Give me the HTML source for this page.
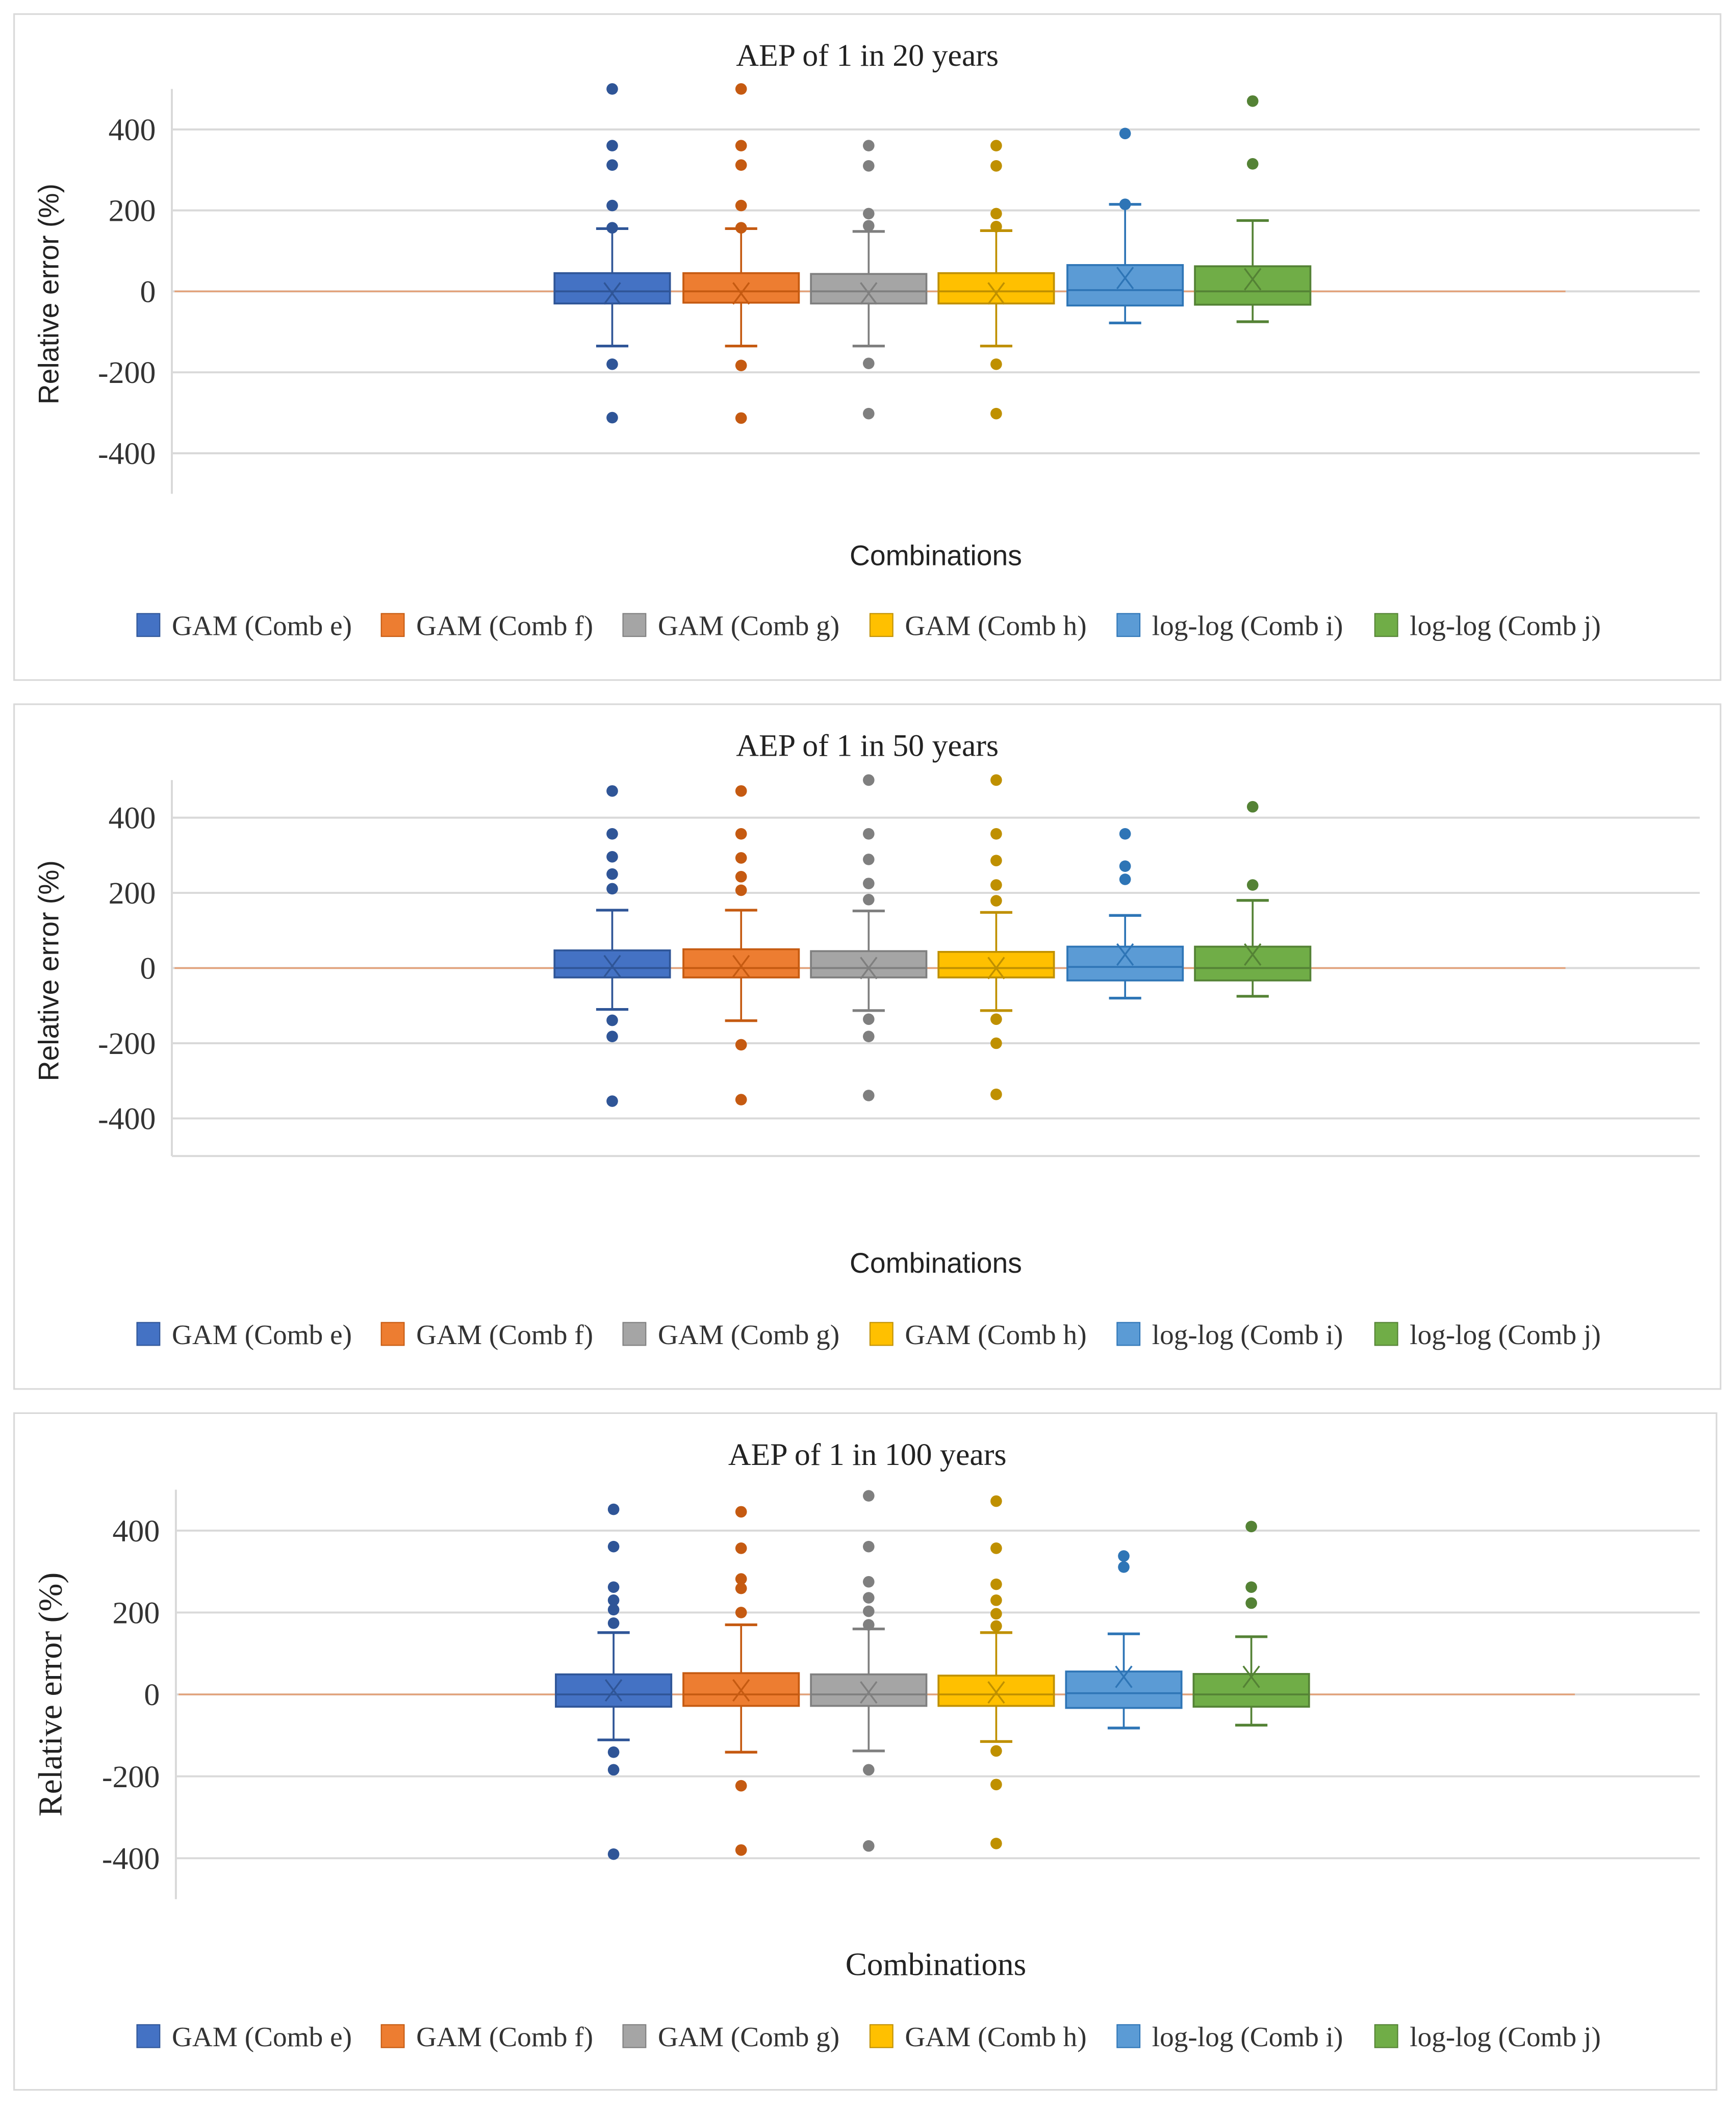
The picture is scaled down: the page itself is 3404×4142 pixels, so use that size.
<!DOCTYPE html>
<html><head><meta charset="utf-8"><style>
html,body{margin:0;padding:0;background:#fff;}
svg{display:block;}
</style></head><body>
<svg id="root" width="3404" height="4142" viewBox="0 0 1293 1573" preserveAspectRatio="none" xmlns="http://www.w3.org/2000/svg"></svg>
<script>
const categories = ["GAM (Comb e)","GAM (Comb f)","GAM (Comb g)","GAM (Comb h)","log-log (Comb i)","log-log (Comb j)"];
const fills = ["#4472C4","#ED7D31","#A5A5A5","#FFC000","#5B9BD5","#70AD47"];
const strokes = ["#2F5597","#C55A11","#7F7F7F","#BF9000","#2E75B6","#548235"];
const titles = ["AEP of 1 in 20 years","AEP of 1 in 50 years","AEP of 1 in 100 years"];
const yTicks = [400,200,0,-200,-400];
// per chart: [whiskerLow, Q1, median, Q3, whiskerHigh, mean]
const stats20 = [[-135,-30,0,45,155,-5],[-135,-28,0,45,155,-5],[-135,-30,0,43,148,-5],[-135,-30,0,45,150,-5],[-78,-35,3,65,215,33],[-75,-33,0,62,175,30]];
const stats50 = [[-110,-25,0,47,154,5],[-140,-25,0,50,154,5],[-113,-25,0,45,152,0],[-113,-25,0,43,148,0],[-80,-33,3,57,140,36],[-75,-33,0,57,180,36]];
const stats100 = [[-111,-30,0,49,151,10],[-141,-28,0,52,170,10],[-138,-28,0,49,160,5],[-115,-28,0,46,151,5],[-82,-33,3,56,148,43],[-75,-30,0,50,141,43]];
const outliers20 = [[500,360,312,212,157,-180,-312],[500,360,312,212,157,-183,-313],[360,310,192,162,-178,-302],[360,310,192,160,-180,-302],[390,215],[470,315]];
const outliers50 = [[471,357,296,250,211,-139,-182,-354],[471,357,293,243,207,-204,-350],[500,357,289,225,182,-136,-182,-339],[500,357,286,221,179,-136,-200,-336],[357,271,236],[429,221]];
const outliers100 = [[452,361,262,230,207,174,-141,-184,-390],[446,357,282,259,200,-223,-380],[485,361,275,236,203,170,-184,-370],[472,357,269,230,197,167,-138,-220,-364],[338,311],[410,262,223]];

const NS="http://www.w3.org/2000/svg";
const root=document.getElementById('root');
function mk(tag,attrs,parent){const e=document.createElementNS(NS,tag);for(const k in attrs)e.setAttribute(k,attrs[k]);(parent||root).appendChild(e);return e;}

const layouts=[
 {top:10,bot:506,right:1281,zero:217,axisX:128,titleY:49,combY:421,legY:466,ylabSerif:false,stats:stats20,out:outliers20,centers:[456,552,647,742,838,933],zeroEnd:1166},
 {top:524,bot:1034,right:1281,zero:721,axisX:128,titleY:563,combY:948,legY:994,ylabSerif:false,stats:stats50,out:outliers50,centers:[456,552,647,742,838,933],zeroEnd:1166,xline:true},
 {top:1052,bot:1556,right:1278,zero:1262,axisX:131,titleY:1091,combY:1471,legY:1517,ylabSerif:true,stats:stats100,out:outliers100,centers:[457,552,647,742,837,932],zeroEnd:1173}
];
const pxPer=[0.3015,0.28,0.305];

layouts.forEach((L,ci)=>{
 const g=mk('g',{});
 
 
 const yS=v=>L.zero-v*pxPer[ci];
 const panel=mk('rect',{x:10.5,y:L.top+.5,width:L.right-10,height:L.bot-L.top,fill:'#fff',stroke:'#d9d9d9','stroke-width':1.2},g);
 
 
 const t=mk('text',{x:646,y:L.titleY,'text-anchor':'middle','font-family':'Liberation Serif, serif','font-size':23.5,fill:'#222'},g);
 t.textContent=titles[ci];
 
 
 yTicks.forEach(v=>{
  const gl=mk('line',{x1:L.axisX,x2:1266,y1:yS(v),y2:yS(v),stroke:'#d9d9d9','stroke-width':1.5},g);
  
  
  const tl=mk('text',{x:L.axisX-12,y:yS(v)+8,'text-anchor':'end','font-family':'Liberation Serif, serif','font-size':23.5,fill:'#333'},g);
  tl.textContent=v;
  
  
 });
 const ax=mk('line',{x1:L.axisX,x2:L.axisX,y1:yS(500),y2:yS(-500),stroke:'#d9d9d9','stroke-width':1.5},g);
 
 
 if(L.xline){const xl=mk('line',{x1:L.axisX,x2:1266,y1:yS(-500),y2:yS(-500),stroke:'#d9d9d9','stroke-width':1.5},g);
  
  }
 const ylx=ci==2?40:38, yly=yS(0)+ (ci==2?0:2);
 const yl=mk('text',{x:ylx,y:yly,transform:`rotate(-90 ${ylx} ${yly})`,'text-anchor':'middle','font-family':L.ylabSerif?'Liberation Serif, serif':'Liberation Sans, sans-serif','font-size':L.ylabSerif?25:21,fill:'#222','dominant-baseline':'middle'},g);
 yl.textContent=L.ylabSerif?'Relative error  (%)':'Relative error (%)';
 
 
 const zl=mk('line',{x1:L.axisX+2,x2:L.zeroEnd,y1:yS(0),y2:yS(0),stroke:'#E3A27A','stroke-width':1.3},g);
 
 
 const hw=43;
 L.stats.forEach((s,i)=>{
  const cx=L.centers[i];
  const bg=mk('g',{},g);
  
  
  mk('line',{x1:cx,x2:cx,y1:yS(s[4]),y2:yS(s[3]),stroke:strokes[i],'stroke-width':1.4},bg);
  mk('line',{x1:cx,x2:cx,y1:yS(s[1]),y2:yS(s[0]),stroke:strokes[i],'stroke-width':1.4},bg);
  mk('line',{x1:cx-12,x2:cx+12,y1:yS(s[4]),y2:yS(s[4]),stroke:strokes[i],'stroke-width':2},bg);
  mk('line',{x1:cx-12,x2:cx+12,y1:yS(s[0]),y2:yS(s[0]),stroke:strokes[i],'stroke-width':2},bg);
  mk('rect',{x:cx-hw,y:yS(s[3]),width:hw*2,height:yS(s[1])-yS(s[3]),fill:fills[i],stroke:strokes[i],'stroke-width':1.4},bg);
  mk('line',{x1:cx-hw,x2:cx+hw,y1:yS(s[2]),y2:yS(s[2]),stroke:strokes[i],'stroke-width':1.4},bg);
  const my=yS(s[5]);
  mk('path',{d:`M${cx-6} ${my-8}L${cx+6} ${my+8}M${cx+6} ${my-8}L${cx-6} ${my+8}`,stroke:strokes[i],'stroke-width':1.3,fill:'none'},bg);
  L.out[i].forEach(v=>{
   const c=mk('circle',{cx:cx,cy:yS(v),r:4.3,fill:strokes[i]},bg);
   
   
  });
 });
 const ct=mk('text',{x:697,y:L.combY,'text-anchor':'middle','font-family':ci==2?'Liberation Serif, serif':'Liberation Sans, sans-serif','font-size':ci==2?24:21,fill:'#222'},g);
 ct.textContent='Combinations';
 
 
 const lx=[102,284,464,648,832,1024];
 categories.forEach((c,i)=>{
  const lg=mk('g',{},g);
  
  
  mk('rect',{x:lx[i],y:L.legY-9,width:17,height:17,fill:fills[i],stroke:strokes[i],'stroke-width':0.8},lg);
  const tx=mk('text',{x:lx[i]+26,y:L.legY+7,'font-family':'Liberation Serif, serif','font-size':21,fill:'#333'},lg);
  tx.textContent=c;
 });
});
</script>
</body></html>
